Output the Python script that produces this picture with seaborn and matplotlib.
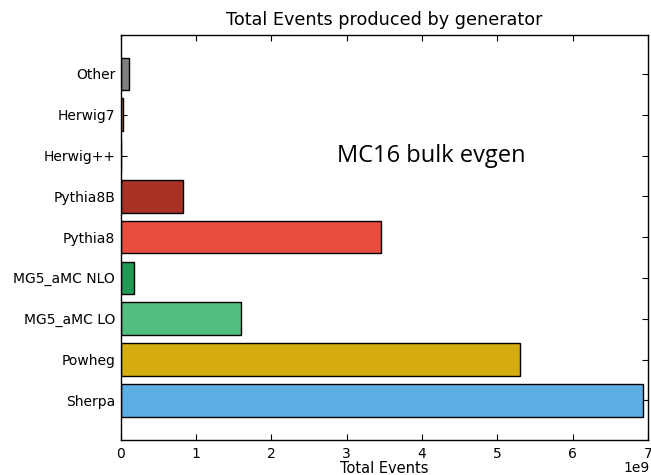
import matplotlib
matplotlib.use("Agg")
import matplotlib.pyplot as plt
import seaborn as sns
import pandas as pd

generators = ["Other", "Herwig7", "Herwig++", "Pythia8B", "Pythia8",
              "MG5_aMC NLO", "MG5_aMC LO", "Powheg", "Sherpa"]
events = [0.115e9, 0.035e9, 0.0, 0.824e9, 3.46e9, 0.173e9, 1.594e9, 5.30e9, 6.935e9]
colors = ["#808080", "#DC7633", "#8E44AD", "#A93226", "#E74C3C",
          "#229954", "#52BE80", "#D4AC0D", "#5DADE2"]
x_ticks = [0, 1, 2, 3, 4, 5, 6, 7]
x_scale_label = "1e9"

df = pd.DataFrame({"generator": generators, "events": events})

sns.set_style("white")
plt.rcParams.update({
    "font.family": ["DejaVu Sans"],
    "xtick.direction": "in", "ytick.direction": "in",
    "xtick.top": True, "ytick.right": True,
    "xtick.bottom": True, "ytick.left": True,
    "xtick.major.size": 4, "ytick.major.size": 4,
    "xtick.major.pad": 5, "ytick.major.pad": 4,
    "xtick.color": "black", "ytick.color": "black",
    "text.color": "black", "axes.labelcolor": "black",
    "axes.edgecolor": "black", "axes.linewidth": 1.0,
    "font.size": 10,
})

fig = plt.figure(figsize=(6.51, 4.75), dpi=100)
ax = fig.add_axes([0.1855, 0.073, 0.81, 0.853])

sns.barplot(data=df, y="generator", x="events", hue="generator",
            palette=dict(zip(generators, colors)), orient="h",
            width=0.8, edgecolor="black", linewidth=1.0,
            saturation=1, legend=False, ax=ax, dodge=False)

ax.set_xlim(0, 7e9)
ax.set_ylim(8.98, -0.95)
ax.set_xticks([t * 1e9 for t in x_ticks])
ax.set_xticklabels([str(t) for t in x_ticks])
ax.set_title("Total Events produced by generator", fontsize=12.7, pad=7)
ax.set_xlabel("Total Events", fontsize=10.5, labelpad=0)
ax.set_ylabel("")
ax.tick_params(axis="both", labelsize=10, colors="black")
for s in ax.spines.values():
    s.set_visible(True)
    s.set_color("black")
ax.text(1.004, -0.078, x_scale_label, transform=ax.transAxes, fontsize=10,
        ha="right", va="baseline")
ax.text(2.87e9, 2, "MC16 bulk evgen", fontsize=17, family="Open Sans",
        va="center", ha="left")

fig.savefig("out.png", dpi=100)
